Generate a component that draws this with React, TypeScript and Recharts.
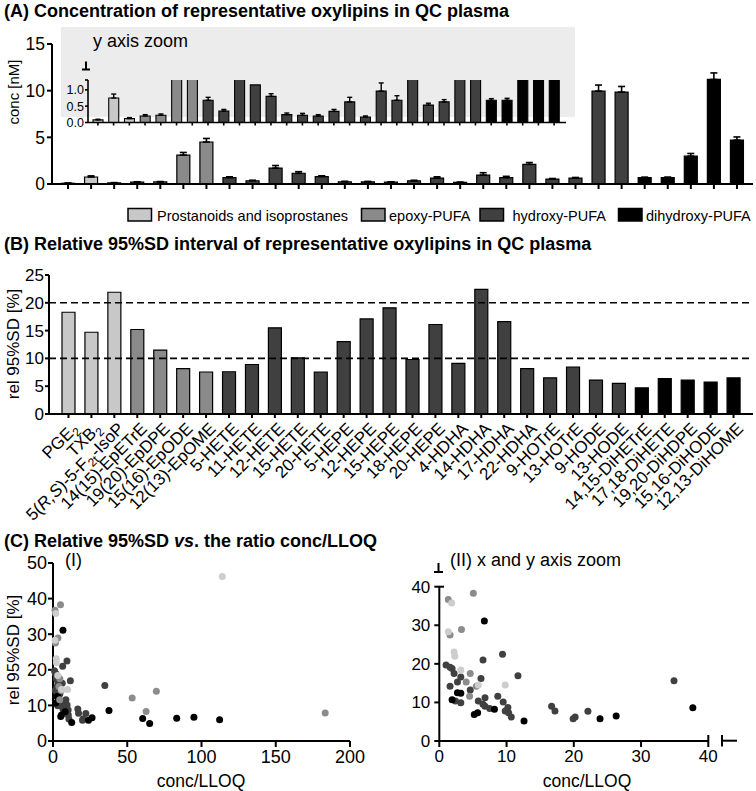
import React from 'react';
import { BarChart, Bar, XAxis, YAxis, ErrorBar, Cell, ScatterChart, Scatter, ReferenceLine } from 'recharts';

const FONT = '"Liberation Sans", Arial, Helvetica, sans-serif';

// ---------- data ----------
const oxylipins = [
  'PGE_{2}', 'TXB_{2}', '5(*R,S*)-5-F_{2t}-IsoP', '14(15)-EpETrE', '19(20)-EpDPE', '15(16)-EpODE',
  '12(13)-EpOME', '5-HETE', '11-HETE', '12-HETE', '15-HETE', '20-HETE', '5-HEPE', '12-HEPE',
  '15-HEPE', '18-HEPE', '20-HEPE', '4-HDHA', '14-HDHA', '17-HDHA', '22-HDHA', '9-HOTrE',
  '13-HOTrE', '9-HODE', '13-HODE', '14,15-DiHETrE', '17,18-DiHETE', '19,20-DiHDPE',
  '15,16-DiHODE', '12,13-DiHOME',
];
const classOf = [0, 0, 0, 1, 1, 1, 1, 2, 2, 2, 2, 2, 2, 2, 2, 2, 2, 2, 2, 2, 2, 2, 2, 2, 2, 3, 3, 3, 3, 3];
const classLabels = ['Prostanoids and isoprostanes', 'epoxy-PUFA', 'hydroxy-PUFA', 'dihydroxy-PUFA'];
const classColors = ['#c8c8c8', '#8a8a8a', '#404040', '#000000'];
const scatterColors = ['#cdcdcd', '#8c8c8c', '#404040', '#000000'];

// (A) concentration [nM], mean and SD
const concMean = [0.08, 0.75, 0.12, 0.2, 0.22, 3.1, 4.5, 0.68, 0.35, 1.7, 1.15, 0.8, 0.24, 0.22, 0.2,
  0.34, 0.63, 0.17, 0.96, 0.68, 2.1, 0.53, 0.63, 9.95, 9.85, 0.68, 0.68, 2.98, 11.2, 4.7];
const concSD = [0.02, 0.12, 0.03, 0.04, 0.04, 0.28, 0.38, 0.09, 0.05, 0.28, 0.17, 0.08, 0.05, 0.06, 0.04,
  0.06, 0.14, 0.03, 0.25, 0.14, 0.2, 0.06, 0.07, 0.65, 0.6, 0.05, 0.06, 0.29, 0.7, 0.34];

// (B) relative 95%SD [%]
const relSD95 = [18.3, 14.7, 21.9, 15.2, 11.5, 8.15, 7.55, 7.6, 8.9, 15.5, 10.1, 7.55, 13.0, 17.1, 19.1,
  9.8, 16.1, 9.1, 22.4, 16.6, 8.15, 6.5, 8.45, 6.1, 5.5, 4.7, 6.35, 6.1, 5.75, 6.5];

// (C) conc/LLOQ vs rel 95%SD, per class [x, y]
const prostanoidPts = [[1.84, 35.8], [1.34, 28.3], [2.2, 23.1], [2.3, 22.0], [3.2, 18.4], [5.8, 14.5],
  [9.8, 14.5], [114, 46.2]];
const epoxyPts = [[1.34, 36.7], [5.06, 38.3], [1.6, 27.5], [3.3, 28.9], [4.6, 17.5], [4.0, 15.3],
  [5.5, 14.2], [4.5, 11.6], [53.3, 12.1], [62.7, 8.3], [69.6, 14.0], [183.3, 7.9]];
const hydroxyPts = [[6.5, 21.0], [9.4, 22.5], [1.0, 19.7], [1.6, 19.1], [1.9, 18.8], [2.2, 17.5],
  [3.2, 16.6], [6.2, 16.2], [11.7, 16.9], [2.7, 15.3], [1.6, 14.2], [4.6, 13.2], [6.8, 11.2],
  [8.7, 11.6], [5.8, 10.4], [2.4, 10.4], [3.2, 9.9], [9.5, 10.1], [6.5, 9.5], [6.8, 9.0], [7.5, 8.4],
  [10.2, 8.7], [9.8, 7.8], [10.3, 7.3], [10.7, 6.2], [16.7, 9.0], [17.2, 7.8], [19.9, 5.8],
  [20.2, 6.2], [22.1, 7.7], [34.9, 15.6]];
const dihydroxyPts = [[6.7, 31.1], [2.7, 12.5], [3.2, 12.4], [1.9, 10.7], [8.2, 8.2], [5.2, 6.9],
  [5.7, 7.3], [12.6, 5.2], [23.9, 5.8], [26.3, 6.5], [37.7, 8.6], [60.4, 6.3], [65.1, 4.9],
  [83.3, 6.4], [94.9, 6.7], [112.2, 6.0]];

const yTicksA = [0, 5, 10, 15];
const INSET_MAX = 1.3;
const yTicksInset = [0, 0.5, 1, INSET_MAX];
const yTicksB = [0, 5, 10, 15, 20, 25];
const refLinesB = [10, 20];
const xTicksC1 = [0, 50, 100, 150, 200];
const yTicksC1 = [0, 10, 20, 30, 40, 50];
const xTicksC2 = [0, 10, 20, 30, 40];
const yTicksC2 = [0, 10, 20, 30, 40];

// ---------- tables ----------
const barRows = oxylipins.map((name, i) => ({
  name, cls: classOf[i], conc: concMean[i], err: [0, concSD[i]], rel: relSD95[i],
}));
const insetRows = barRows.map((r) => ({
  ...r, err: r.conc + r.err[1] <= INSET_MAX ? r.err : null,
}));
const scatterGroups = [prostanoidPts, epoxyPts, hydroxyPts, dihydroxyPts].map((pts) =>
  pts.map(([x, y]) => ({ x, y })));
const drawOrder = [2, 3, 1, 0];

// ---------- helpers ----------
const axisStyle = { stroke: '#000', strokeWidth: 2 };
const axisThin = { stroke: '#000', strokeWidth: 1.6 };

function rich(label: string, sub: number) {
  const parts = label.split(/(_\{[^}]*\}|\*[^*]*\*)/).filter(Boolean);
  let shifted = false;
  return parts.map((p, k) => {
    if (p.startsWith('_{')) {
      shifted = true;
      return <tspan key={k} fontSize={sub} dy={4}>{p.slice(2, -1)}</tspan>;
    }
    const dy = shifted ? -4 : undefined;
    shifted = false;
    if (p.startsWith('*')) return <tspan key={k} fontStyle="italic" dy={dy}>{p.slice(1, -1)}</tspan>;
    return <tspan key={k} dy={dy}>{p}</tspan>;
  });
}

const RotatedTick = (props: any) => {
  const { x, y, payload } = props;
  return (
    <g transform={`translate(${x + 2},${y + 1}) rotate(-45)`}>
      <text x={0} y={0} dy="0.72em" textAnchor="end" fontSize={17} fontFamily={FONT} fill="#000">
        {rich(payload.value, 12)}
      </text>
    </g>
  );
};

const dot = (color: string) => (p: any) => <circle cx={p.cx} cy={p.cy} r={3.5} fill={color} />;

const tickFont = (size: number) => ({ fill: '#000', fontSize: size, fontFamily: FONT });

export default function App() {
  const cellsFor = (rows: any[]) => rows.map((r, i) => <Cell key={i} fill={classColors[r.cls]} />);
  return (
    <div style={{ position: 'absolute', left: 0, top: 0, width: 756, height: 791, background: '#fff', overflow: 'hidden', fontFamily: FONT }}>
      {/* (A) main */}
      <div style={{ position: 'absolute', left: 0, top: 0 }}>
        <BarChart width={756} height={200} data={barRows} margin={{ top: 44, right: 3, bottom: 6, left: 0 }}>
          <XAxis dataKey="name" interval={0} height={10} tickSize={5} tickFormatter={() => ''}
            axisLine={axisStyle} tickLine={axisStyle} padding={{ left: 4.5, right: 4.5 }} />
          <YAxis width={52} domain={[0, 15]} ticks={yTicksA} interval={0} tickSize={5} tickMargin={2}
            axisLine={axisStyle} tickLine={axisStyle} tick={tickFont(17.5)} />
          <Bar dataKey="conc" barSize={13} stroke="#000" strokeWidth={1.2} isAnimationActive={false}>
            {cellsFor(barRows)}
            <ErrorBar dataKey="err" width={3.5} stroke="#000" strokeWidth={1.6} direction="y" />
          </Bar>
        </BarChart>
      </div>

      {/* (A) inset */}
      <div style={{ position: 'absolute', left: 61, top: 27, width: 514, height: 90, background: '#ececec' }} />
      <div style={{ position: 'absolute', left: 0, top: 0 }}>
        <BarChart width={580} height={140} data={insetRows} margin={{ top: 80, right: 14, bottom: 9.5, left: 0 }}>
          <XAxis dataKey="name" interval={0} height={8} tickSize={3} tickFormatter={() => ''}
            axisLine={axisThin} tickLine={axisThin} padding={{ left: 2, right: 4 }} />
          <YAxis width={88} domain={[0, INSET_MAX]} allowDataOverflow ticks={yTicksInset} interval={0}
            tickFormatter={(v: number) => (v === INSET_MAX ? '' : v.toFixed(1))}
            tickSize={3} tickMargin={1} axisLine={axisThin} tickLine={axisThin} tick={tickFont(12.5)} />
          <Bar dataKey="conc" barSize={10} stroke="#000" strokeWidth={1.1} isAnimationActive={false}>
            {cellsFor(insetRows)}
            <ErrorBar dataKey="err" width={2.5} stroke="#000" strokeWidth={1.4} direction="y" />
          </Bar>
        </BarChart>
      </div>

      {/* (B) */}
      <div style={{ position: 'absolute', left: 0, top: 250 }}>
        <BarChart width={756} height={290} data={barRows} margin={{ top: 25, right: 3, bottom: 6, left: 0 }}>
          <XAxis dataKey="name" interval={0} height={120} tickSize={4} tickMargin={2}
            axisLine={axisStyle} tickLine={axisStyle} tick={<RotatedTick />} padding={{ left: 8, right: 8 }} />
          <YAxis width={49} domain={[0, 25]} ticks={yTicksB} interval={0} tickSize={4} tickMargin={1}
            axisLine={axisStyle} tickLine={axisStyle} tick={tickFont(17)} />
          <Bar dataKey="rel" barSize={13} stroke="#000" strokeWidth={1.2} isAnimationActive={false}>
            {cellsFor(barRows)}
          </Bar>
          {refLinesB.map((v) => (
            <ReferenceLine key={v} y={v} stroke="#000" strokeWidth={1.6} strokeDasharray="7 4" />
          ))}
        </BarChart>
      </div>

      {/* (C) I */}
      <div style={{ position: 'absolute', left: 0, top: 550 }}>
        <ScatterChart width={370} height={241} margin={{ top: 13, right: 20, bottom: 6, left: 0 }}>
          <XAxis type="number" dataKey="x" domain={[0, 200]} ticks={xTicksC1} interval={0} height={44}
            tickSize={6} tickMargin={3} axisLine={axisStyle} tickLine={axisStyle} tick={tickFont(18)} />
          <YAxis type="number" dataKey="y" domain={[0, 50]} ticks={yTicksC1} interval={0} width={53}
            tickSize={5} tickMargin={1} axisLine={axisStyle} tickLine={axisStyle} tick={tickFont(18)} />
          {drawOrder.map((g) => (
            <Scatter key={g} data={scatterGroups[g]} fill={scatterColors[g]} shape={dot(scatterColors[g])}
              isAnimationActive={false} />
          ))}
        </ScatterChart>
      </div>

      {/* (C) II */}
      <div style={{ position: 'absolute', left: 370, top: 550 }}>
        <ScatterChart width={386} height={241} margin={{ top: 36.7, right: 47.7, bottom: 6, left: 0 }}>
          <XAxis type="number" dataKey="x" domain={[0, 40]} ticks={xTicksC2} interval={0} height={44}
            tickSize={6} tickMargin={3} axisLine={axisStyle} tickLine={axisStyle} tick={tickFont(17)} />
          <YAxis type="number" dataKey="y" domain={[0, 40]} ticks={yTicksC2} interval={0} width={69.3}
            tickSize={5} tickMargin={4} axisLine={axisStyle} tickLine={axisStyle} tick={tickFont(17)} />
          {drawOrder.map((g) => (
            <Scatter key={g} data={scatterGroups[g].filter((p) => p.x <= 40 && p.y <= 40)}
              fill={scatterColors[g]} shape={dot(scatterColors[g])} isAnimationActive={false} />
          ))}
        </ScatterChart>
      </div>

      {/* overlay: titles, legend, axis titles, axis breaks */}
      <svg width={756} height={791} style={{ position: 'absolute', left: 0, top: 0, pointerEvents: 'none' }}
        fontFamily={FONT}>
        <text x={4} y={17} fontSize={18} fontWeight="bold">(A) Concentration of representative oxylipins in QC plasma</text>
        <text x={4} y={250} fontSize={18} fontWeight="bold">(B) Relative 95%SD interval of representative oxylipins in QC plasma</text>
        <text x={4} y={547} fontSize={18} fontWeight="bold">
          (C) Relative 95%SD <tspan fontStyle="italic">vs</tspan>. the ratio conc/LLOQ
        </text>
        <text x={93} y={47} fontSize={18}>y axis zoom</text>

        {/* legend */}
        {[[128, 157], [361.5, 389], [480, 512.5], [618.5, 646]].map(([bx, tx], i) => (
          <g key={i}>
            <rect x={bx} y={208.5} width={23.5} height={12.5} fill={classColors[i]} stroke="#000" strokeWidth={1.5} />
            <text x={tx} y={220.5} fontSize={14.5}>{classLabels[i]}</text>
          </g>
        ))}

        {/* axis titles */}
        <text transform="translate(19,92) rotate(-90)" textAnchor="middle" fontSize={15}>conc [nM]</text>
        <text transform="translate(19,344) rotate(-90)" textAnchor="middle" fontSize={17}>rel 95%SD [%]</text>
        <text transform="translate(19,650) rotate(-90)" textAnchor="middle" fontSize={17}>rel 95%SD [%]</text>
        <text x={201} y={787} textAnchor="middle" fontSize={17.5}>conc/LLOQ</text>
        <text x={587} y={787} textAnchor="middle" fontSize={17.5}>conc/LLOQ</text>
        <text x={65} y={566} fontSize={18}>(I)</text>
        <text x={450} y={566} fontSize={18}>(II) x and y axis zoom</text>

        {/* axis break marks */}
        <g stroke="#000" strokeWidth={2} fill="none">
          <line x1={86} y1={61.5} x2={86} y2={69.5} />
          <line x1={82} y1={69.5} x2={90} y2={69.5} />
          <line x1={438.5} y1={563} x2={438.5} y2={572} />
          <line x1={434} y1={572} x2={443} y2={572} />
          <line x1={439} y1={586.7} x2={444} y2={586.7} />
          <line x1={708.3} y1={735} x2={708.3} y2={741} />
          <line x1={722} y1={735} x2={722} y2={746.5} />
          <line x1={722} y1={740.7} x2={737} y2={740.7} />
        </g>
      </svg>
    </div>
  );
}
